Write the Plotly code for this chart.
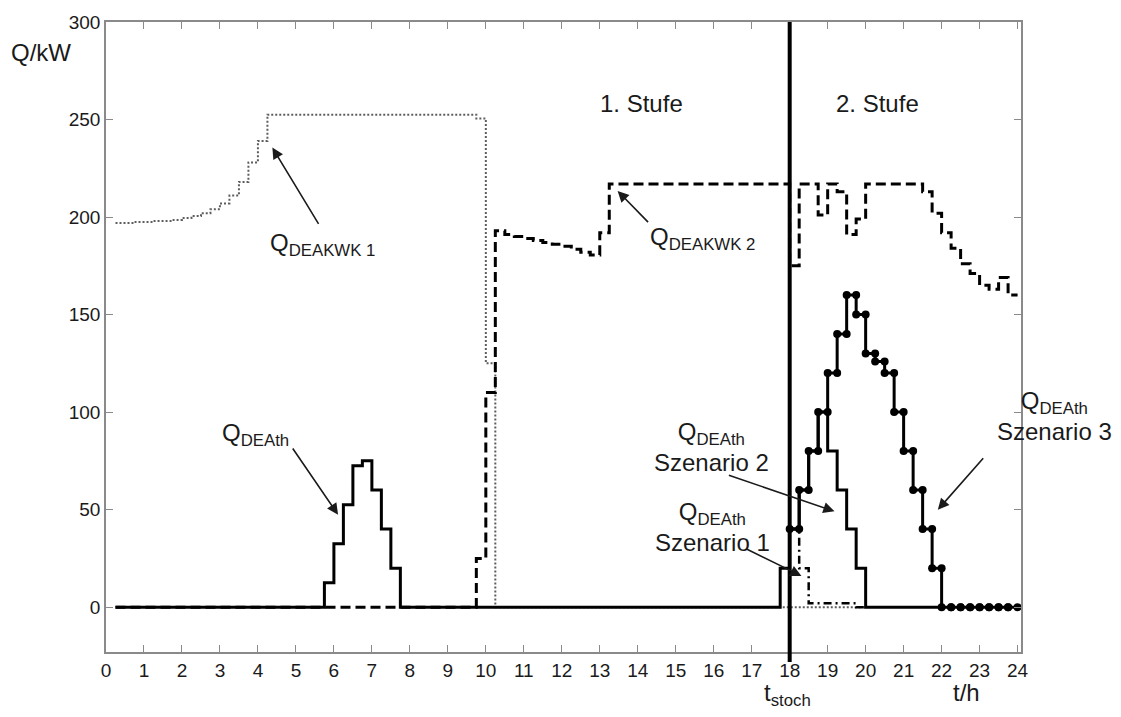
import plotly.graph_objects as go

# ---- data (time in h, power in kW); step series given at their change points ----
kwk1_t = [0.25, 0.75, 1.25, 1.75, 2.0, 2.25, 2.5, 2.75, 3.0, 3.25, 3.5, 3.75, 4.0, 4.25,
          9.75, 10.0, 10.25, 20.0]
kwk1_q = [197, 197.5, 198, 198.5, 199.5, 200.5, 202, 204, 207, 211, 218, 228, 239, 252.5,
          250.5, 125, 0, 0]

kwk2_t = [0.25, 9.75, 10.0, 10.25, 10.5, 10.75, 11.0, 11.25, 11.5, 11.75, 12.0, 12.25, 12.5,
          12.75, 13.0, 13.25, 18.0, 18.25, 18.75, 19.0, 19.25, 19.5, 19.75, 20.0, 21.5,
          21.75, 22.0, 22.25, 22.5, 22.75, 23.0, 23.25, 23.5, 23.75, 24.0]
kwk2_q = [0, 25, 110, 193, 191, 190, 189, 188, 187, 186, 185, 183.5, 182,
          180.5, 192, 217, 175, 217, 201, 217, 213, 191, 199, 217, 213,
          202, 192, 184, 176, 171, 165, 163, 169, 160, 160]

death_t = [0.25, 5.75, 6.0, 6.25, 6.5, 6.75, 7.0, 7.25, 7.5, 7.75, 17.75, 18.0]
death_q = [0, 12.5, 32.5, 52.5, 72.5, 75, 60, 40, 20, 0, 20, 20]

sz1_t = [18.0, 18.25, 18.5, 19.75, 20.0]
sz1_q = [40, 20, 2, 0, 0]

sz2_t = [18.0, 18.25, 18.5, 18.75, 19.0, 19.25, 19.5, 19.75, 20.0, 22.0]
sz2_q = [40, 60, 80, 100, 80, 60, 40, 20, 0, 0]

sz3_t = [18.0, 18.25, 18.5, 18.75, 19.0, 19.25, 19.5, 19.75, 20.0, 20.25, 20.5, 20.75,
         21.0, 21.25, 21.5, 21.75, 22.0, 22.25, 22.5, 22.75, 23.0, 23.25, 23.5, 23.75]
sz3_q = [40, 60, 80, 100, 120, 140, 160, 150, 130, 126, 120, 100,
         80, 60, 40, 20, 0, 0, 0, 0, 0, 0, 0, 0]
sz3_end = 24.0

t_stoch = 18.0
x_ticks = list(range(0, 25))
y_ticks = [0, 50, 100, 150, 200, 250, 300]

FONT = "Liberation Sans, Arial, sans-serif"
INK = "#1a1a1a"
W, H = 1121, 717
M = dict(l=106, r=100, t=15, b=65)
X_RANGE = [0, 24.09]
Y_RANGE = [-23, 300]

# stairs with a marker at both ends of each level
sz3_x, sz3_y = [], []
for i, v in enumerate(sz3_q):
    t_next = sz3_t[i + 1] if i + 1 < len(sz3_t) else sz3_end
    sz3_x += [sz3_t[i], t_next]
    sz3_y += [v, v]

fig = go.Figure()
fig.add_trace(go.Scatter(x=kwk1_t, y=kwk1_q, mode="lines", line_shape="hv",
                         line=dict(color="#5e5e5e", width=2, dash="2px,2px")))
fig.add_trace(go.Scatter(x=kwk2_t, y=kwk2_q, mode="lines", line_shape="hv",
                         line=dict(color="black", width=3, dash="10px,5px")))
fig.add_trace(go.Scatter(x=death_t, y=death_q, mode="lines", line_shape="hv",
                         line=dict(color="black", width=3)))
fig.add_trace(go.Scatter(x=sz1_t, y=sz1_q, mode="lines", line_shape="hv",
                         line=dict(color="black", width=2.5, dash="8px,4px,2px,4px")))
fig.add_trace(go.Scatter(x=sz2_t, y=sz2_q, mode="lines", line_shape="hv",
                         line=dict(color="black", width=3)))
fig.add_trace(go.Scatter(x=sz3_x, y=sz3_y, mode="lines+markers",
                         line=dict(color="black", width=3),
                         marker=dict(color="black", size=8)))

# t_stoch marker line, running a little past the bottom axis
fig.add_shape(type="line", xref="x", yref="paper", x0=t_stoch, x1=t_stoch,
              y0=-10 / (H - M["t"] - M["b"]), y1=1,
              line=dict(color="black", width=4), layer="above")


def px_x(p):
    return (p - M["l"]) / (W - M["l"] - M["r"])


def px_y(p):
    return (H - M["b"] - p) / (H - M["t"] - M["b"])


def label(text, x, y, size=24, xanchor="center"):
    fig.add_annotation(text=text, x=px_x(x), y=px_y(y), xref="paper", yref="paper",
                       showarrow=False, xanchor=xanchor, yanchor="middle",
                       font=dict(family=FONT, size=size, color=INK))


def arrow(tip, tail):
    fig.add_annotation(x=tip[0], y=tip[1], ax=tail[0], ay=tail[1], xref="x", yref="y",
                       axref="x", ayref="y", text="", showarrow=True, arrowhead=2,
                       arrowsize=1.4, arrowwidth=1.6, arrowcolor=INK, standoff=0)


label("Q/kW", 41, 46)
label("1. Stufe", 641, 97)
label("2. Stufe", 877, 97)
label("Q<sub>DEAKWK 1</sub>", 268, 240, xanchor="left")
label("Q<sub>DEAKWK 2</sub>", 757, 234, xanchor="right")
label("Q<sub>DEAth</sub>", 255, 432)
label("Q<sub>DEAth</sub><br>Szenario 2", 711, 445)
label("Q<sub>DEAth</sub><br>Szenario 1", 712, 526)
label("Q<sub>DEAth</sub><br>Szenario 3", 1054, 413)
label("t<sub>stoch</sub>", 762, 695, xanchor="left")
label("t/h", 966, 693)

arrow((4.38, 235.6), (5.62, 195.7))
arrow((13.47, 213.4), (14.31, 196.6))
arrow((6.11, 47.4), (4.89, 82.1))
arrow((19.18, 49.1), (16.36, 67.9))
arrow((18.31, 16.0), (16.81, 30.3))
arrow((21.90, 49.9), (23.13, 77.1))

axis_common = dict(showline=True, linecolor="#8a8a8a", linewidth=1.5, mirror="ticks",
                   ticks="inside", ticklen=7, tickwidth=1.3, tickcolor="#8a8a8a",
                   showgrid=False, zeroline=False,
                   tickfont=dict(family=FONT, size=19, color=INK))
fig.update_xaxes(range=X_RANGE, tickvals=x_ticks, **axis_common)
fig.update_yaxes(range=Y_RANGE, tickvals=y_ticks, **axis_common)

fig.update_layout(width=W, height=H, margin=M, showlegend=False,
                  plot_bgcolor="white", paper_bgcolor="white")

fig.write_html("out.html")
